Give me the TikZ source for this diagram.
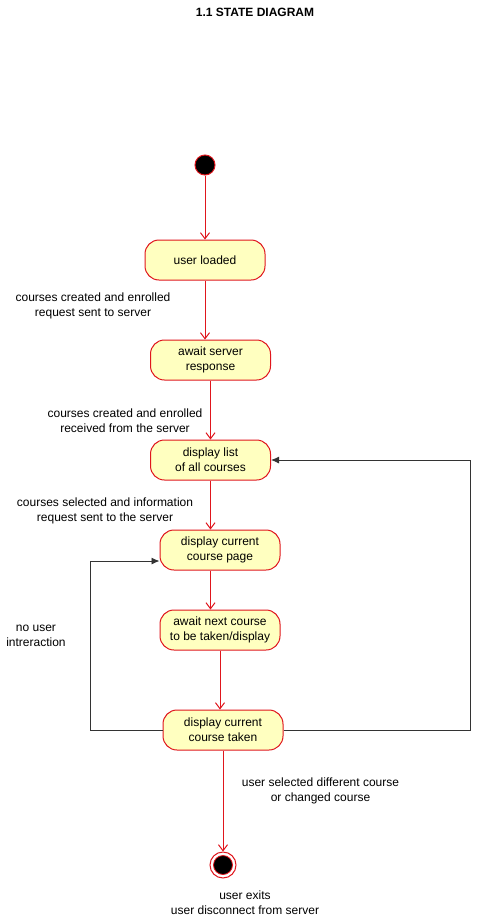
\documentclass[tikz,border=0pt]{standalone}
\usepackage{fontspec}
\setmainfont{Liberation Sans}
\usetikzlibrary{arrows.meta}
\definecolor{statefill}{HTML}{FFFFC0}
\definecolor{statered}{HTML}{E0161D}
\tikzset{
  statebox/.style={draw=statered, fill=statefill, line width=1pt, rounded corners=14pt,
    minimum width=120pt, minimum height=40pt, inner sep=0pt, align=center,
    font=\fontsize{12}{15}\selectfont},
  lbl/.style={align=center, inner sep=0pt, font=\fontsize{12}{15}\selectfont},
  redarrow/.style={draw=statered, line width=1pt, -{Straight Barb[length=6pt,width=9pt]}},
  blackarrow/.style={draw=black!80, line width=0.9pt, -{Latex[length=8pt,width=7pt]}},
}
\begin{document}
\begin{tikzpicture}[x=1pt,y=-1pt]
\useasboundingbox[fill=white] (0,0) rectangle (479,921);
\node[font=\bfseries\fontsize{12}{15}\selectfont] (title) at (255,12) {1.1 STATE DIAGRAM};

\node[circle, fill=black, draw=statered, line width=1pt, minimum size=20pt, inner sep=0pt] (init) at (205,165) {};
\node[statebox] (ul) at (205,260) {user loaded};
\node[statebox] (aw) at (210.5,360) {await server\\response};
\node[statebox] (dl) at (210.5,460) {display list\\of all courses};
\node[statebox] (cp) at (220,550) {display current\\course page};
\node[statebox] (an) at (220,630) {await next course\\to be taken/display};
\node[statebox] (ct) at (223,730) {display current\\course taken};
\node[circle, draw=statered, fill=white, line width=1pt, minimum size=26pt, inner sep=0pt] (fin) at (223,865) {};
\node[circle, fill=black, draw=statered, line width=0.8pt, minimum size=19pt, inner sep=0pt] (fininner) at (fin.center) {};

\draw[redarrow] (init) -- (ul);
\draw[redarrow] (ul.south) -- (ul.south |- aw.north);
\draw[redarrow] (aw.south) -- (dl.north);
\draw[redarrow] (dl.south) -- (dl.south |- cp.north);
\draw[redarrow] (cp.south -| dl.south) -- (an.north -| dl.south);
\draw[redarrow] (an.south) -- (an.south |- ct.north);
\draw[redarrow] (ct.south) -- (fin.north);

\coordinate (lc) at (90,730);
\coordinate (rc) at (470,730);
\coordinate (cpin) at ([yshift=-11pt]cp.west);
\draw[blackarrow] (ct.west) -- (lc) -- (lc |- cpin) -- (cpin);
\draw[blackarrow] (ct.east) -- (rc) -- (rc |- dl.east) -- (dl.east);

\node[lbl] (l1) at (93,305.5) {courses created and enrolled\\request sent to server};
\node[lbl] (l2) at (125,420.5) {courses created and enrolled\\received from the server};
\node[lbl] (l3) at (105,510.5) {courses selected and information\\request sent to the server};
\node[lbl] (l4) at (36,635.5) {no user\\intreraction};
\node[lbl] (l5) at (320.5,790.5) {user selected different course\\or changed course};
\node[lbl] (l6) at (245,903) {user exits\\user disconnect from server};
\end{tikzpicture}
\end{document}
